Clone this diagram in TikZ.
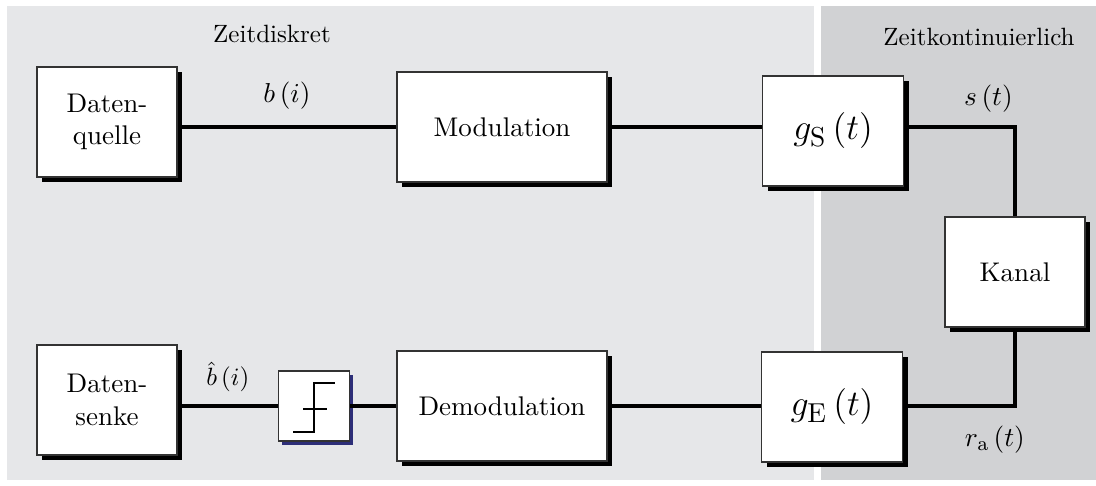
\documentclass[tikz,border=0pt]{standalone}
\usepackage{amsmath}
\usetikzlibrary{shadows}
\definecolor{discrete}{RGB}{230,231,233}
\definecolor{continuous}{RGB}{209,210,212}
\definecolor{quantshadow}{RGB}{45,46,120}

\begin{document}
\begin{tikzpicture}[x=0.4pt,y=-0.4pt,
  box/.style={rectangle,draw=black!80,line width=0.6pt,fill=white,align=center,inner sep=0pt},
  block/.style={box,minimum width=56pt,minimum height=44pt,font=\fontsize{10.8}{13}\selectfont,
    drop shadow={fill=black,opacity=1,shadow xshift=2pt,shadow yshift=-2pt}},
  quantblock/.style={box,minimum width=28.4pt,minimum height=28pt,
    drop shadow={fill=quantshadow,opacity=1,shadow xshift=1.4pt,shadow yshift=-1.6pt}},
  filter/.style={block,minimum width=56.4pt,font=\fontsize{15.6}{18}\selectfont},
  signal/.style={font=\fontsize{11}{13}\selectfont},
  wire/.style={line width=1.4pt}]
% domains
\fill[discrete] (7,6) rectangle (814,480);
\fill[continuous] (821,6) rectangle (1096,480);
\useasboundingbox (0,0) rectangle (1096,486);
\draw (272,34) node(diskret) {Zeitdiskret};
\draw (979,37) node(kont) {Zeitkontinuierlich};
% blocks
\draw (107,122) node[block](quelle) {Daten-\\quelle};
\draw (502,127) node[block,minimum width=84pt](mod) {Modulation};
\draw (833,131) node[filter](gS) {$g_{\mathrm{S}}\,(t)$};
\draw (1015,272) node[block](kanal) {Kanal};
\draw (832,407) node[filter](gE) {$g_{\mathrm{E}}\,(t)$};
\draw (502,406) node[block,minimum width=84pt](demod) {Demodulation};
\draw (314,406) node[quantblock](quant) {};
\draw (107,400) node[block](senke) {Daten-\\senke};
% quantizer symbol
\draw[line width=0.9pt] ([shift={(-21,26)}]quant.center) -- ++(21,0) -- ++(0,-49) -- ++(21,0);
\draw[line width=0.9pt] ([shift={(-11,3)}]quant.center) -- ++(24,0);
% connections
\draw[wire] (quelle.east |- mod.west) -- node[signal,above=3pt] {$b\,(i)$} (mod.west);
\draw[wire] (mod.east) -- (mod.east -| gS.west);
\draw[wire] (gS.east |- mod.east) -| node[signal,pos=0.38,above=2pt] {$s\,(t)$} (kanal.north);
\draw[wire] (gE.east |- demod.east) -| node[signal,pos=0.41,below=4pt] {$r_{\mathrm{a}}\,(t)$} (kanal.south);
\draw[wire] (demod.east) -- (demod.east -| gE.west);
\draw[wire] (quant.east) -- (quant.east -| demod.west);
\draw[wire] (senke.east |- quant.west) -- node[above=1.5pt] {$\hat{b}\,(i)$} (quant.west);
\end{tikzpicture}
\end{document}
